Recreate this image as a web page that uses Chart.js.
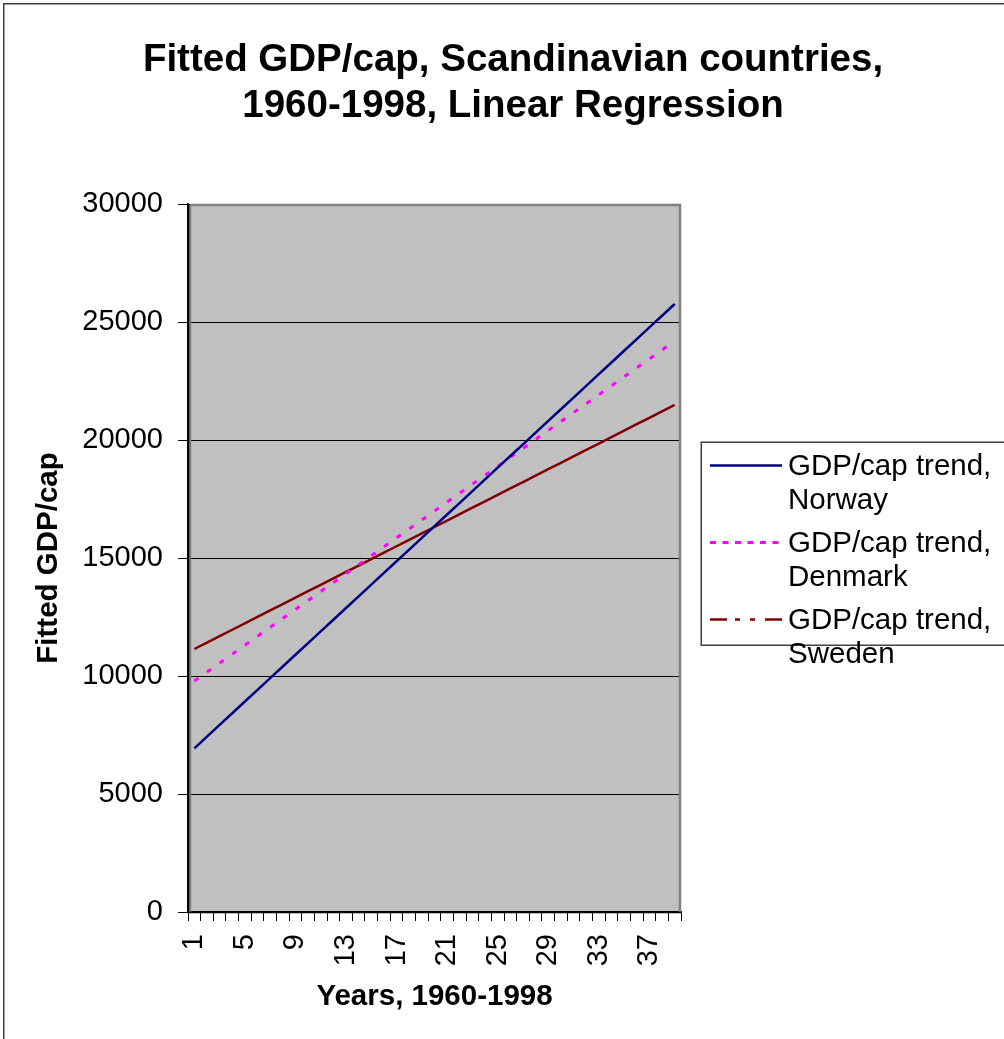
<!DOCTYPE html>
<html>
<head>
<meta charset="utf-8">
<title>Fitted GDP/cap, Scandinavian countries</title>
<script src="https://cdn.jsdelivr.net/npm/chart.js@4.4.1/dist/chart.umd.min.js"></script>
<style>
  html, body { margin: 0; padding: 0; background: #ffffff; }
  canvas { display: block; }
</style>
</head>
<body>
<canvas id="gdpChart" width="1004" height="1039"></canvas>
<script>
// Year index 1..39 (1960-1998)
const years = ['1','2','3','4','5','6','7','8','9','10','11','12','13','14','15','16','17','18','19','20',
               '21','22','23','24','25','26','27','28','29','30','31','32','33','34','35','36','37','38','39'];

// Fitted (linear trend) GDP per capita
const norway = [6936, 7431, 7927, 8422, 8918, 9413, 9908, 10404, 10899, 11395,
                11890, 12385, 12881, 13376, 13872, 14367, 14862, 15358, 15853, 16349,
                16844, 17339, 17835, 18330, 18826, 19321, 19816, 20312, 20807, 21303,
                21798, 22293, 22789, 23284, 23780, 24275, 24770, 25266, 25761];
const denmark = [9788, 10167, 10546, 10925, 11304, 11684, 12063, 12442, 12821, 13200,
                 13579, 13958, 14337, 14716, 15095, 15475, 15854, 16233, 16612, 16991,
                 17370, 17749, 18128, 18507, 18886, 19266, 19645, 20024, 20403, 20782,
                 21161, 21540, 21919, 22298, 22677, 23057, 23436, 23815, 24194];
const sweden = [11144, 11416, 11688, 11960, 12232, 12505, 12777, 13049, 13321, 13593,
                13865, 14137, 14409, 14681, 14953, 15226, 15498, 15770, 16042, 16314,
                16586, 16858, 17130, 17402, 17674, 17947, 18219, 18491, 18763, 19035,
                19307, 19579, 19851, 20123, 20395, 20668, 20940, 21212, 21484];

const seriesNames = ['GDP/cap trend, Norway', 'GDP/cap trend, Denmark', 'GDP/cap trend, Sweden'];
const chartTitle = ['Fitted GDP/cap, Scandinavian countries,', '1960-1998, Linear Regression'];
const yAxisTitle = 'Fitted GDP/cap';
const xAxisTitle = 'Years, 1960-1998';
const yMin = 0, yMax = 30000, yStep = 5000;
const xLabelEvery = 4;

const FONT = "'Liberation Sans', Arial, Helvetica, sans-serif";

// Dash patterns used for the legend samples
const legendDash = [[], [6, 6.5], [17, 8, 5, 10, 5, 10]];

// Frame, grey plot area and its border
const plotFrame = {
  id: 'plotFrame',
  beforeDraw(chart) {
    const ctx = chart.ctx;
    const a = chart.chartArea;
    ctx.save();
    ctx.fillStyle = '#ffffff';
    ctx.fillRect(0, 0, chart.width, chart.height);
    ctx.strokeStyle = '#404040';
    ctx.lineWidth = 1.5;
    ctx.strokeRect(3.75, 3.75, 1200, 1200);
    ctx.fillStyle = '#c0c0c0';
    ctx.fillRect(a.left, a.top, a.right - a.left, a.bottom - a.top);
    ctx.restore();
  },
  beforeDatasetsDraw(chart) {
    const ctx = chart.ctx;
    const a = chart.chartArea;
    ctx.save();
    ctx.strokeStyle = '#808080';
    ctx.lineWidth = 2.5;
    ctx.beginPath();
    ctx.moveTo(a.left + 2, a.top + 1);
    ctx.lineTo(a.right - 1, a.top + 1);
    ctx.lineTo(a.right - 1, a.bottom);
    ctx.moveTo(a.left + 2, a.top + 1);
    ctx.lineTo(a.left + 2, a.bottom);
    ctx.stroke();
    ctx.strokeStyle = '#000000';
    ctx.lineWidth = 1.5;
    ctx.beginPath();
    ctx.moveTo(a.left + 0.5, a.top);
    ctx.lineTo(a.left + 0.5, a.bottom + 0.5);
    ctx.lineTo(a.right, a.bottom + 0.5);
    ctx.stroke();
    ctx.restore();
  }
};

// Chart heading and the boxed legend on the right
const headingAndLegend = {
  id: 'headingAndLegend',
  afterDraw(chart) {
    const ctx = chart.ctx;
    ctx.save();
    ctx.fillStyle = '#000000';
    ctx.textAlign = 'center';
    ctx.textBaseline = 'middle';
    ctx.font = 'bold 38.5px ' + FONT;
    chartTitle.forEach((line, i) => ctx.fillText(line, 513, 60 + i * 46));

    // legend box
    ctx.strokeStyle = '#404040';
    ctx.lineWidth = 1.5;
    ctx.strokeRect(701.25, 442.25, 400, 203);

    ctx.font = '29.5px ' + FONT;
    ctx.textAlign = 'left';
    chart.data.datasets.forEach((ds, i) => {
      const yc = 465.5 + i * 77;
      ctx.save();
      ctx.strokeStyle = ds.borderColor;
      ctx.lineWidth = ds.borderWidth;
      ctx.setLineDash(legendDash[i]);
      ctx.beginPath();
      ctx.moveTo(710, yc);
      ctx.lineTo(782, yc);
      ctx.stroke();
      ctx.restore();
      const parts = ds.label.split(', ');
      ctx.fillText(parts[0] + ',', 788, yc + 1);
      ctx.fillText(parts[1], 788, yc + 35);
    });
    ctx.restore();
  }
};

const colors = ['#000080', '#ff00ff', '#800000'];
const widths = [2.5, 3, 2.5];
const dashes = [[], [5, 10.5], []];
const values = [norway, denmark, sweden];

new Chart(document.getElementById('gdpChart'), {
  type: 'line',
  data: {
    labels: years,
    datasets: values.map((v, i) => ({
      label: seriesNames[i],
      data: v,
      borderColor: colors[i],
      backgroundColor: colors[i],
      borderWidth: widths[i],
      borderDash: dashes[i],
      pointRadius: 0,
      pointHoverRadius: 0,
      tension: 0,
      fill: false
    }))
  },
  options: {
    responsive: false,
    animation: false,
    events: [],
    layout: { padding: { top: 204, right: 323, left: 0, bottom: 0 } },
    plugins: {
      legend: { display: false },
      title: { display: false },
      tooltip: { enabled: false }
    },
    scales: {
      x: {
        type: 'category',
        offset: true,
        afterFit: (s) => { s.height = 127; },
        grid: {
          offset: true,
          drawOnChartArea: false,
          drawTicks: true,
          tickLength: 9,
          color: '#000000',
          lineWidth: 1
        },
        border: { display: true, color: '#000000', width: 1.5 },
        ticks: {
          autoSkip: false,
          maxRotation: 90,
          minRotation: 90,
          padding: 13,
          color: '#000000',
          font: { family: FONT, size: 29 },
          callback: (val, idx) => (idx % xLabelEvery === 0 ? years[idx] : '')
        },
        title: {
          display: true,
          text: xAxisTitle,
          color: '#000000',
          font: { family: FONT, size: 29.5, weight: 'bold', lineHeight: 1.2 },
          padding: { top: 0, bottom: 24 }
        }
      },
      y: {
        min: yMin,
        max: yMax,
        afterFit: (s) => { s.width = 188; },
        grid: {
          color: '#000000',
          lineWidth: 1,
          drawTicks: true,
          tickLength: 10
        },
        border: { display: true, color: '#000000', width: 1.5 },
        ticks: {
          stepSize: yStep,
          padding: 15,
          color: '#000000',
          font: { family: FONT, size: 29 },
          callback: (val) => String(val)
        },
        title: {
          display: true,
          text: yAxisTitle,
          color: '#000000',
          font: { family: FONT, size: 29.5, weight: 'bold', lineHeight: 1.2 },
          padding: { top: 31, bottom: 0 }
        }
      }
    }
  },
  plugins: [plotFrame, headingAndLegend]
});
</script>
</body>
</html>
